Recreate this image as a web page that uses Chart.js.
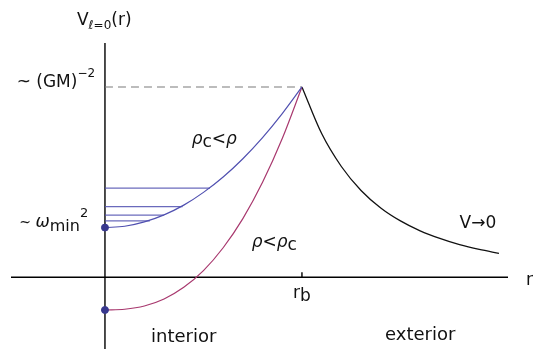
<!DOCTYPE html>
<html>
<head>
<meta charset="utf-8">
<script src="https://cdn.jsdelivr.net/npm/chart.js@4"></script>
<style>
  html, body { margin: 0; padding: 0; background: #fff; }
  #wrap { width: 533px; height: 349px; }
</style>
</head>
<body>
<div id="wrap"><canvas id="pot" width="533" height="349"></canvas></div>
<script>
// values (r in units of r_b, V in units of the peak)
const rIn     = [0, 0.1, 0.2, 0.3, 0.4, 0.5, 0.6, 0.7, 0.8, 0.9, 1.0];
const vBlue   = [0.261, 0.268, 0.291, 0.328, 0.379, 0.446, 0.527, 0.623, 0.734, 0.86, 1.0];
const vPurple = [-0.172, -0.168, -0.151, -0.114, -0.053, 0.035, 0.155, 0.308, 0.499, 0.729, 1.0];
const rOut    = [1.0, 1.1, 1.2, 1.3, 1.4, 1.5, 1.6, 1.7, 1.8, 1.9, 2.0];
const vOut    = [1.0, 0.755, 0.582, 0.456, 0.364, 0.296, 0.244, 0.204, 0.171, 0.146, 0.126];
// bound-state levels inside the blue well
const levelV   = [0.468, 0.371, 0.327, 0.296];
const levelEnd = [0.533, 0.394, 0.299, 0.228];
const rB = 1.0, vPeak = 1.0;

const FONT = '"DejaVu Sans", sans-serif';
const BLUE = '#5050b0', PURPLE = '#a8386e', DOT = '#38388e';

function pts(xs, ys){ return xs.map((x,i)=>({x:x, y:ys[i]})); }

const datasets = [
  { data: pts(rIn, vBlue), borderColor: BLUE, borderWidth: 1.2 },
  { data: pts(rIn, vPurple), borderColor: PURPLE, borderWidth: 1.2 },
  { data: pts(rOut, vOut), borderColor: '#111', borderWidth: 1.3 },
  { data: [{x:0,y:vPeak},{x:rB,y:vPeak}], borderColor: '#7a7a7a', borderWidth: 1.1, borderDash: [8,5] }
];
levelV.forEach((v,i)=>{
  datasets.push({ data: [{x:0,y:v},{x:levelEnd[i],y:v}], borderColor: 'rgba(80,80,176,0.85)', borderWidth: 1.3 });
});
datasets.forEach(d=>{ d.pointRadius = 0; d.fill = false; d.cubicInterpolationMode = 'monotone'; });
datasets.push({ data: [{x:0,y:vBlue[0]},{x:0,y:vPurple[0]}], showLine: false,
  pointRadius: 3.5, pointBackgroundColor: DOT, pointBorderColor: DOT, order: -1 });

function drawRich(ctx, parts, x, y, align){
  let w = 0;
  parts.forEach(p=>{
    ctx.font = (p.it ? 'italic ' : '') + (p.s || 17) + 'px ' + FONT;
    p.w = ctx.measureText(p.t).width;
    w += p.w;
  });
  let cx = align === 'right' ? x - w : align === 'center' ? x - w/2 : x;
  parts.forEach(p=>{
    ctx.font = (p.it ? 'italic ' : '') + (p.s || 17) + 'px ' + FONT;
    ctx.fillText(p.t, cx, y + (p.dy || 0));
    cx += p.w;
  });
}

const axesPlugin = {
  id: 'axes',
  beforeDatasetsDraw(chart){
    const {ctx, chartArea: a, scales: {x, y}} = chart;
    const x0 = x.getPixelForValue(0), y0 = y.getPixelForValue(0);
    ctx.save();
    ctx.strokeStyle = '#000';
    ctx.lineWidth = 1.4;
    ctx.beginPath();
    ctx.moveTo(a.left, y0); ctx.lineTo(a.right, y0);
    ctx.moveTo(x0, a.top); ctx.lineTo(x0, a.bottom);
    const xb = x.getPixelForValue(rB);
    ctx.moveTo(xb, y0); ctx.lineTo(xb, y0 - 5);
    ctx.stroke();
    ctx.restore();
  },
  afterDraw(chart){
    const {ctx, scales: {x, y}} = chart;
    const X = v => x.getPixelForValue(v), Y = v => y.getPixelForValue(v);
    ctx.save();
    ctx.fillStyle = '#111';
    ctx.textBaseline = 'alphabetic';
    drawRich(ctx, [{t:'V'},{t:'\u2113=0', s:12, dy:4},{t:'(r)'}], X(-0.142), Y(1.326), 'left');
    drawRich(ctx, [{t:'~ (GM)'},{t:'\u22122', s:12, dy:-10}], X(-0.05), Y(vPeak), 'right');
    drawRich(ctx, [{t:'~ ', s:14},{t:'\u03c9', it:true},{t:'min', s:16, dy:4},{t:'2', s:13, dy:-10}], X(-0.085), Y(0.264), 'right');
    drawRich(ctx, [{t:'\u03c1', it:true},{t:'c', dy:3},{t:'<'},{t:'\u03c1', it:true}], X(0.44), Y(0.70), 'left');
    drawRich(ctx, [{t:'\u03c1', it:true},{t:'<'},{t:'\u03c1', it:true},{t:'c', dy:3}], X(0.745), Y(0.16), 'left');
    drawRich(ctx, [{t:'r'},{t:'b', dy:3}], X(rB), Y(-0.11), 'center');
    drawRich(ctx, [{t:'V\u21920'}], X(1.80), Y(0.26), 'left');
    drawRich(ctx, [{t:'r'}], X(2.137), Y(-0.04), 'left');
    drawRich(ctx, [{t:'interior', s:18}], X(0.40), Y(-0.338), 'center');
    drawRich(ctx, [{t:'exterior', s:18}], X(1.60), Y(-0.33), 'center');
    ctx.restore();
  }
};

new Chart(document.getElementById('pot'), {
  type: 'line',
  data: { datasets: datasets },
  options: {
    responsive: false,
    animation: false,
    layout: { autoPadding: false, padding: { left: 11, right: 25, top: 43, bottom: 0 } },
    plugins: { legend: { display: false }, tooltip: { enabled: false } },
    scales: {
      x: { type: 'linear', display: false, min: -0.477, max: 2.046 },
      y: { type: 'linear', display: false, min: -0.377, max: 1.231 }
    }
  },
  plugins: [axesPlugin]
});
</script>
</body>
</html>
